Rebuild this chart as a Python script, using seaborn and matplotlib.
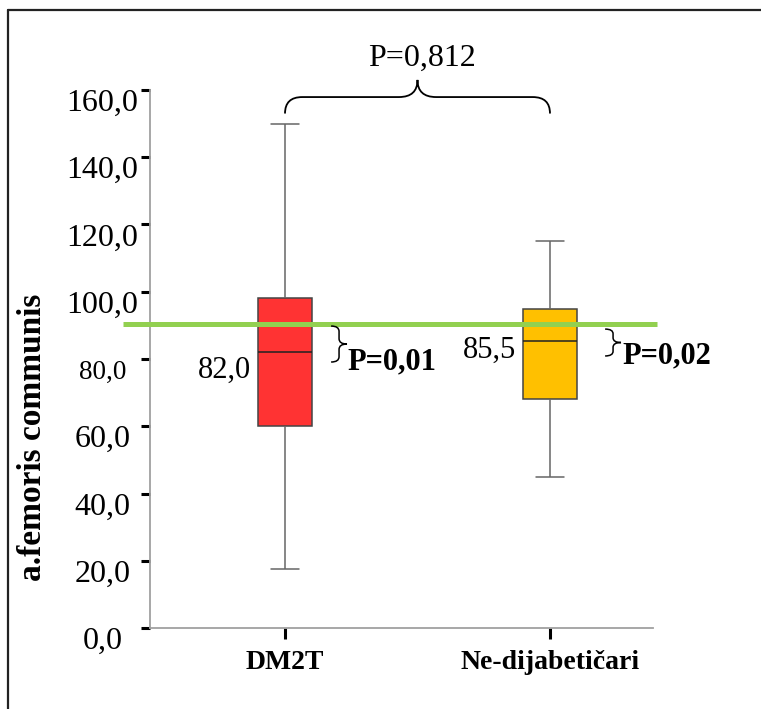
import numpy as np
import pandas as pd
import matplotlib
matplotlib.use("Agg")
import matplotlib.pyplot as plt
import seaborn as sns
from matplotlib.path import Path
from matplotlib.patches import PathPatch
from matplotlib.lines import Line2D
from matplotlib.transforms import ScaledTranslation

# ---- data -------------------------------------------------------------
groups = ["DM2T", "Ne-dijabetičari"]
# five-number summaries: minimum, Q1, median, Q3, maximum
dm2t_values = [17.5, 60.0, 82.0, 98.0, 150.0]
nedijabeticari_values = [45.0, 68.0, 85.5, 95.0, 115.0]
box_colors = ["#ff3333", "#ffc000"]
median_labels = ["82,0", "85,5"]
reference_level = 90.3
y_ticks = [0, 20, 40, 60, 80, 100, 120, 140, 160]
y_tick_labels = ["0,0", "20,0", "40,0", "60,0", "80,0", "100,0", "120,0", "140,0", "160,0"]
p_between_groups = "P=0,812"
p_vs_reference = ["P=0,01", "P=0,02"]
y_axis_title = "a.femoris communis"

df = pd.DataFrame({
    "group": [groups[0]] * len(dm2t_values) + [groups[1]] * len(nedijabeticari_values),
    "value": dm2t_values + nedijabeticari_values,
})

# ---- style ------------------------------------------------------------
sns.set_style("white")
plt.rcParams["font.family"] = ["Liberation Serif", "DejaVu Serif"]
for key in ["text.color", "axes.labelcolor", "xtick.color", "ytick.color"]:
    plt.rcParams[key] = "black"

fig = plt.figure(figsize=(7.61, 7.09), dpi=100)
ax = fig.add_axes([150 / 761, 1 - 628 / 709, 503 / 761, 538 / 709])

box_width = 0.207
sns.boxplot(
    data=df, x="group", y="value", hue="group", order=groups,
    palette=box_colors, legend=False, saturation=1, width=box_width,
    whis=(0, 100), showfliers=False, linecolor="#444444", linewidth=1.1,
    medianprops={"color": "#222222", "linewidth": 1.1},
    whiskerprops={"color": "#666666", "linewidth": 1.1},
    capprops={"color": "#666666", "linewidth": 1.1},
    ax=ax,
)

ax.set_xlim(-0.5094, 1.3887)
ax.set_ylim(0, 160)

# reference level across the plot
ax.plot([-0.611, 1.404], [reference_level, reference_level], color="#92d050",
        lw=3.6, clip_on=False, zorder=6, solid_capstyle="butt")

# ---- axes decoration ----------------------------------------------------
for side in ["top", "right"]:
    ax.spines[side].set_visible(False)
for side in ["left", "bottom"]:
    ax.spines[side].set_color("#a0a0a0")
    ax.spines[side].set_linewidth(1.3)

ax.set_xlabel("")
ax.set_ylabel(y_axis_title, fontsize=24, fontweight="bold")
ax.yaxis.set_label_coords(-0.203, 0.355)

ax.set_yticks(y_ticks)
ax.set_yticklabels(y_tick_labels, fontsize=23)
ax.tick_params(axis="y", left=True, direction="out", length=6.8, width=2.2,
               color="black", pad=27.4)
ax.tick_params(axis="x", bottom=True, direction="out", length=8, width=2.2,
               color="black", pad=7.5)
for lab in ax.get_xticklabels():
    lab.set_fontsize(20)
    lab.set_fontweight("bold")

shift = ScaledTranslation(0, -0.10, fig.dpi_scale_trans)
for i, lab in enumerate(ax.get_yticklabels()):
    lab.set_horizontalalignment("center")
    lab.set_transform(lab.get_transform() + shift)
    if y_tick_labels[i] == "80,0":
        lab.set_fontsize(19.5)

# ---- annotations ----------------------------------------------------------
label_y = [76.7, 82.7]
label_x = [-0.128, 0.872]
for i in range(2):
    ax.text(label_x[i], label_y[i], median_labels[i], ha="right", va="center",
            fontsize=22, zorder=7)


def vertical_brace(x_end, x_line, x_tip, y_top, y_bot, r):
    y_mid = (y_top + y_bot) / 2
    verts = [
        (x_end, y_top), (x_line, y_top), (x_line, y_top - r),
        (x_line, y_mid + r),
        (x_line, y_mid), (x_tip, y_mid),
        (x_line, y_mid), (x_line, y_mid - r),
        (x_line, y_bot + r),
        (x_line, y_bot), (x_end, y_bot),
    ]
    codes = [Path.MOVETO, Path.CURVE3, Path.CURVE3, Path.LINETO,
             Path.CURVE3, Path.CURVE3, Path.CURVE3, Path.CURVE3,
             Path.LINETO, Path.CURVE3, Path.CURVE3]
    return PathPatch(Path(verts, codes), fill=False, lw=1.1, color="black",
                     clip_on=False, zorder=7)


def horizontal_brace(x0, x1, y_end, y_bar, y_tip, r, rt):
    xm = (x0 + x1) / 2
    verts = [
        (x0, y_end), (x0, y_bar), (x0 + r, y_bar),
        (xm - rt, y_bar),
        (xm, y_bar), (xm, y_tip),
        (xm, y_bar), (xm + rt, y_bar),
        (x1 - r, y_bar),
        (x1, y_bar), (x1, y_end),
    ]
    codes = [Path.MOVETO, Path.CURVE3, Path.CURVE3, Path.LINETO,
             Path.CURVE3, Path.CURVE3, Path.CURVE3, Path.CURVE3,
             Path.LINETO, Path.CURVE3, Path.CURVE3]
    return PathPatch(Path(verts, codes), fill=False, lw=1.3, color="black",
                     clip_on=False, zorder=7)


# braces between each group and the reference level
ax.add_patch(vertical_brace(0.174, 0.204, 0.234, 89.8, 79.1, 1.6))
ax.text(0.234, 79.1, p_vs_reference[0], ha="left", va="center",
        fontsize=22, fontweight="bold", zorder=7)
ax.add_patch(vertical_brace(1.208, 1.238, 1.268, 88.9, 80.9, 1.4))
ax.text(1.272, 80.9, p_vs_reference[1], ha="left", va="center",
        fontsize=22, fontweight="bold", zorder=7)

# brace between the two groups
ax.add_patch(horizontal_brace(0.0, 1.0, 153.0, 157.9, 163.0, 0.065, 0.07))
ax.text(0.517, 169.5, p_between_groups, ha="center", va="center", fontsize=23)

# frame lines of the panel
fig.add_artist(Line2D([8 / 761, 8 / 761], [0, 1 - 10 / 709], transform=fig.transFigure,
                      color="#222222", lw=1.6))
fig.add_artist(Line2D([8 / 761, 1], [1 - 10 / 709, 1 - 10 / 709], transform=fig.transFigure,
                      color="#222222", lw=1.6))

fig.savefig("out.png", dpi=100)
